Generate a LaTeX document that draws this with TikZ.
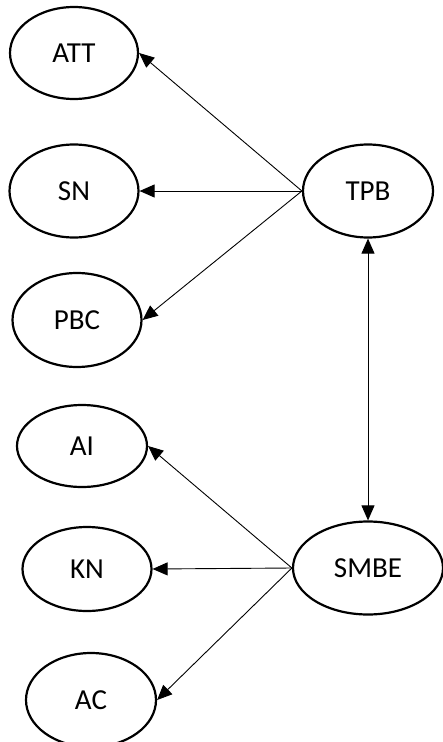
\documentclass[tikz,border=0pt]{standalone}
\usepackage{fontspec}
\setmainfont{Carlito}
\usetikzlibrary{shapes.geometric,arrows.meta}
\begin{document}
\begin{tikzpicture}[x=1pt,y=-1pt,
  oval/.style={draw=black,ellipse,line width=2.2pt,inner sep=0pt,font=\fontsize{29}{32}\selectfont},
  conn/.style={line width=0.9pt,-{Triangle[length=15pt,width=13pt]}}]
\useasboundingbox (0,0) rectangle (443,742);
\node[oval,minimum width=128pt,minimum height=92pt] (att) at (74,53) {ATT};
\node[oval,minimum width=129pt,minimum height=93pt] (sn) at (74,191) {SN};
\node[oval,minimum width=129pt,minimum height=94pt] (pbc) at (77,320) {PBC};
\node[oval,minimum width=130pt,minimum height=82pt] (ai) at (82,446) {AI};
\node[oval,minimum width=129pt,minimum height=84pt] (kn) at (87,569) {KN};
\node[oval,minimum width=130pt,minimum height=94pt] (ac) at (91,700) {AC};
\node[oval,minimum width=130pt,minimum height=93pt] (tpb) at (368,191) {TPB};
\node[oval,minimum width=150pt,minimum height=93pt] (smbe) at (368,568) {SMBE};
\draw[conn] (tpb.west) -- (att.east);
\draw[conn] (tpb.west) -- (sn.east);
\draw[conn] (tpb.west) -- (pbc.east);
\draw[conn] (smbe.west) -- (ai.east);
\draw[conn] (smbe.west) -- (kn.east);
\draw[conn] (smbe.west) -- (ac.east);
\draw[line width=0.9pt,{Triangle[length=15pt,width=13pt]}-{Triangle[length=15pt,width=13pt]}] (tpb.south) -- (smbe.north);
\end{tikzpicture}
\end{document}
